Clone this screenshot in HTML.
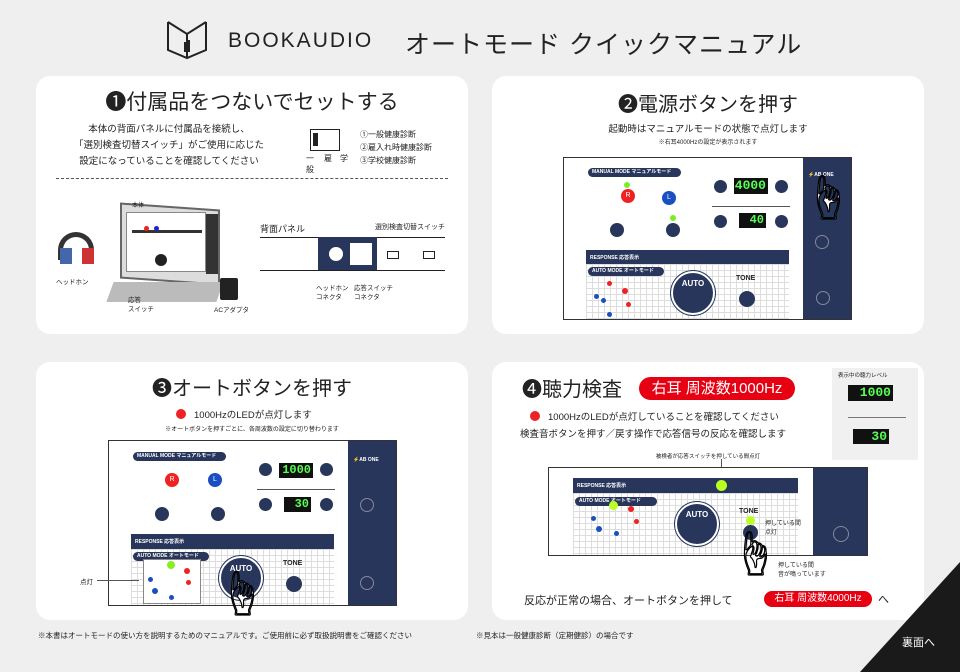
<!DOCTYPE html>
<html><head><meta charset="utf-8">
<style>
*{margin:0;padding:0;box-sizing:border-box}
body{width:960px;height:672px;background:#efefef;position:relative;overflow:hidden;font-family:"Liberation Sans","Noto Sans CJK JP",sans-serif;color:#222}
.a{position:absolute}
.card{position:absolute;background:#fff;border-radius:14px}
.t{position:absolute;white-space:nowrap}
.c{text-align:center}
.navy{background:#27365a}
.circ{position:absolute;border-radius:50%}
.disp{position:absolute;background:#111;color:#5f5;font-family:"Liberation Mono",monospace;font-weight:bold;text-align:right;padding-right:2px}
.grid{position:absolute;background-color:#fff;background-image:linear-gradient(#ddd 1px,transparent 1px),linear-gradient(90deg,#ddd 1px,transparent 1px);background-size:6px 6px}
.pill{position:absolute;background:#27365a;border-radius:5px;color:#fff;font-size:5px;padding-left:4px;line-height:9px;font-weight:bold}
.red{background:#e60012;color:#fff;border-radius:12px;text-align:center}
.hand{position:absolute;font-size:46px;line-height:46px;color:#fff;-webkit-text-stroke:1.2px #000}
</style></head><body>

<!-- header -->
<svg class="a" style="left:165px;top:20px" width="44" height="40" viewBox="0 0 44 40"><path d="M3 2 L3 30 L22 38 L41 30 L41 2 M3 2 L22 14 L41 2 M22 14 L22 38" fill="none" stroke="#222" stroke-width="2"/><rect x="19" y="22" width="2" height="10" fill="#222"/><rect x="23" y="20" width="2" height="12" fill="#222"/></svg>
<div class="t" style="left:228px;top:29px;font-size:21px;letter-spacing:2px;color:#222">BOOKAUDIO</div>
<div class="t" style="left:405px;top:25px;font-size:25px;color:#222;letter-spacing:1px">オートモード クイックマニュアル</div>

<!-- card 1 -->
<div class="card" style="left:36px;top:76px;width:432px;height:258px"></div>
<div class="t c" style="left:36px;top:86px;width:432px;font-size:21px">❶付属品をつないでセットする</div>
<div class="t c" style="left:64px;top:122px;width:210px;font-size:9.5px;line-height:16px">本体の背面パネルに付属品を接続し、<br>「選別検査切替スイッチ」がご使用に応じた<br>設定になっていることを確認してください</div>
<div class="a" style="left:310px;top:129px;width:30px;height:22px;border:1.5px solid #222"></div>
<div class="a" style="left:313px;top:133px;width:5px;height:13px;background:#222"></div>
<div class="t" style="left:306px;top:153px;font-size:8px">一<br>般</div><div class="t" style="left:324px;top:153px;font-size:8px">雇</div><div class="t" style="left:340px;top:153px;font-size:8px">学</div>
<div class="t" style="left:360px;top:128px;font-size:8px;line-height:13px">①一般健康診断<br>②雇入れ時健康診断<br>③学校健康診断</div>
<div class="a" style="left:56px;top:178px;width:392px;border-top:1px dashed #555"></div>
<!-- device illustration -->
<div class="a" style="left:120px;top:206px;width:100px;height:76px;background:#ddd;border:2px solid #666;transform:skewY(4deg)"></div>
<div class="a" style="left:126px;top:212px;width:80px;height:60px;background:#fff;border:1px solid #888"></div>
<div class="a" style="left:132px;top:230px;width:70px;height:3px;background:#333"></div>
<div class="circ" style="left:144px;top:226px;width:5px;height:5px;background:#e22"></div>
<div class="circ" style="left:154px;top:226px;width:5px;height:5px;background:#22c"></div>
<div class="circ" style="left:155px;top:254px;width:12px;height:12px;background:#222"></div>
<div class="a" style="left:206px;top:214px;width:12px;height:60px;background:#333"></div>
<div class="a" style="left:110px;top:282px;width:110px;height:20px;background:#bbb;transform:skewX(-20deg)"></div>
<div class="a" style="left:58px;top:232px;width:36px;height:28px;border:5px solid #333;border-bottom:none;border-radius:18px 18px 0 0"></div>
<div class="a" style="left:60px;top:248px;width:12px;height:16px;background:#46a"></div>
<div class="a" style="left:82px;top:248px;width:12px;height:16px;background:#c33"></div>
<div class="a" style="left:220px;top:278px;width:18px;height:22px;background:#222;border-radius:2px"></div>
<div class="t" style="left:132px;top:200px;font-size:6px">本体</div>
<div class="t" style="left:56px;top:276px;font-size:6.5px">ヘッドホン</div>
<div class="t" style="left:128px;top:296px;font-size:6.5px;line-height:9px">応答<br>スイッチ</div>
<div class="t" style="left:214px;top:304px;font-size:6.5px">ACアダプタ</div>
<!-- back panel -->
<div class="t" style="left:260px;top:222px;font-size:9px">背面パネル</div>
<div class="t" style="left:375px;top:222px;font-size:7px">選別検査切替スイッチ</div>
<div class="a" style="left:260px;top:237px;width:185px;border-top:1.5px solid #222"></div>
<div class="a" style="left:260px;top:270px;width:185px;border-top:1.5px solid #222"></div>
<div class="a navy" style="left:318px;top:237px;width:59px;height:33px"></div>
<div class="circ" style="left:329px;top:247px;width:14px;height:14px;background:#fff"></div>
<div class="a" style="left:350px;top:243px;width:22px;height:22px;background:#fff"></div>
<div class="t" style="left:316px;top:284px;font-size:6.5px;line-height:9px">ヘッドホン<br>コネクタ</div>
<div class="t" style="left:354px;top:284px;font-size:6.5px;line-height:9px">応答スイッチ<br>コネクタ</div>
<div class="a" style="left:387px;top:251px;width:12px;height:8px;border:1px solid #222"></div>
<div class="a" style="left:423px;top:251px;width:12px;height:8px;border:1px solid #222"></div>

<!-- card 2 -->
<div class="card" style="left:492px;top:76px;width:432px;height:258px"></div>
<div class="t c" style="left:492px;top:88px;width:432px;font-size:20px">❷電源ボタンを押す</div>
<div class="t c" style="left:492px;top:121px;width:432px;font-size:9.5px">起動時はマニュアルモードの状態で点灯します</div>
<div class="t c" style="left:492px;top:137px;width:432px;font-size:6px">※右耳4000Hzの設定が表示されます</div>

<div class="a" style="left:563px;top:157px;width:289px;height:163px;border:1.5px solid #333;background:#fff;overflow:hidden">
 <div class="pill" style="left:24px;top:10px;width:93px">MANUAL MODE マニュアルモード</div>
 <div class="circ" style="left:57px;top:31px;width:14px;height:14px;background:#e22;color:#fff;font-size:7px;text-align:center;line-height:14px">R</div>
 <div class="circ" style="left:98px;top:33px;width:14px;height:14px;background:#1a4fc0;color:#fff;font-size:7px;text-align:center;line-height:14px">L</div>
 <div class="circ" style="left:60px;top:24px;width:6px;height:6px;background:#7e2"></div>
 <div class="circ" style="left:46px;top:65px;width:14px;height:14px;background:#27365a"></div>
 <div class="circ" style="left:102px;top:65px;width:14px;height:14px;background:#27365a"></div>
 <div class="circ" style="left:106px;top:57px;width:6px;height:6px;background:#7e2"></div>
 <div class="circ" style="left:150px;top:22px;width:13px;height:13px;background:#27365a"></div>
 <div class="circ" style="left:211px;top:22px;width:13px;height:13px;background:#27365a"></div>
 <div class="disp" style="left:170px;top:20px;width:34px;height:16px;font-size:13px;line-height:16px">4000</div>
 <div class="a" style="left:148px;top:48px;width:78px;border-top:1px solid #555"></div>
 <div class="circ" style="left:150px;top:57px;width:13px;height:13px;background:#27365a"></div>
 <div class="circ" style="left:211px;top:57px;width:13px;height:13px;background:#27365a"></div>
 <div class="disp" style="left:175px;top:55px;width:27px;height:15px;font-size:12px;line-height:15px">40</div>
 <div class="a navy" style="left:22px;top:92px;width:203px;height:14px;color:#fff;font-size:5px;padding:4px 4px;font-weight:bold">RESPONSE 応答表示</div>
 <div class="grid" style="left:22px;top:106px;width:203px;height:60px"></div>
 <div class="pill" style="left:24px;top:109px;width:76px">AUTO MODE オートモード</div>
 <div class="circ" style="left:107px;top:113px;width:44px;height:44px;background:#27365a;border:2px solid #fff;box-shadow:0 0 0 1px #27365a;color:#fff;font-size:8px;text-align:center;line-height:22px;font-weight:bold">AUTO</div>
 <div class="t" style="left:172px;top:117px;font-size:7px;font-weight:bold">TONE</div>
 <div class="circ" style="left:175px;top:133px;width:16px;height:16px;background:#27365a"></div>
 <div class="circ" style="left:43px;top:123px;width:5px;height:5px;background:#e22"></div>
 <div class="circ" style="left:58px;top:130px;width:6px;height:6px;background:#e22"></div>
 <div class="circ" style="left:62px;top:144px;width:5px;height:5px;background:#e22"></div>
 <div class="circ" style="left:37px;top:140px;width:5px;height:5px;background:#1a4fc0"></div>
 <div class="circ" style="left:30px;top:136px;width:5px;height:5px;background:#1a4fc0"></div>
 <div class="circ" style="left:43px;top:154px;width:5px;height:5px;background:#1a4fc0"></div>
 <div class="a navy" style="left:239px;top:0;width:50px;height:163px"></div>
 <div class="t" style="left:244px;top:14px;font-size:5px;color:#fff;font-weight:bold">⚡AB ONE</div>
 <div class="circ" style="left:251px;top:77px;width:14px;height:14px;border:1px solid #889"></div>
 <div class="circ" style="left:252px;top:133px;width:14px;height:14px;border:1px solid #889"></div>
 <div class="hand" style="left:240px;top:18px">☝</div>
</div>

<!-- card 3 -->
<div class="card" style="left:36px;top:362px;width:432px;height:258px"></div>
<div class="t c" style="left:36px;top:372px;width:432px;font-size:20px">❸オートボタンを押す</div>
<div class="circ" style="left:176px;top:409px;width:10px;height:10px;background:#e22"></div>
<div class="t" style="left:194px;top:407px;font-size:9.5px">1000HzのLEDが点灯します</div>
<div class="t c" style="left:36px;top:424px;width:432px;font-size:6px">※オートボタンを押すごとに、各周波数の設定に切り替わります</div>
<div class="a" style="left:108px;top:440px;width:289px;height:166px;border:1.5px solid #333;background:#fff;overflow:hidden">
 <div class="pill" style="left:24px;top:11px;width:93px">MANUAL MODE マニュアルモード</div>
 <div class="circ" style="left:56px;top:32px;width:14px;height:14px;background:#e22;color:#fff;font-size:7px;text-align:center;line-height:14px">R</div>
 <div class="circ" style="left:99px;top:32px;width:14px;height:14px;background:#1a4fc0;color:#fff;font-size:7px;text-align:center;line-height:14px">L</div>
 <div class="circ" style="left:46px;top:66px;width:14px;height:14px;background:#27365a"></div>
 <div class="circ" style="left:102px;top:66px;width:14px;height:14px;background:#27365a"></div>
 <div class="circ" style="left:150px;top:22px;width:13px;height:13px;background:#27365a"></div>
 <div class="circ" style="left:211px;top:22px;width:13px;height:13px;background:#27365a"></div>
 <div class="disp" style="left:170px;top:22px;width:34px;height:15px;font-size:12px;line-height:15px">1000</div>
 <div class="a" style="left:148px;top:48px;width:78px;border-top:1px solid #555"></div>
 <div class="circ" style="left:150px;top:57px;width:13px;height:13px;background:#27365a"></div>
 <div class="circ" style="left:211px;top:57px;width:13px;height:13px;background:#27365a"></div>
 <div class="disp" style="left:175px;top:56px;width:27px;height:15px;font-size:12px;line-height:15px">30</div>
 <div class="a navy" style="left:22px;top:93px;width:203px;height:15px;color:#fff;font-size:5px;padding:4px 4px;font-weight:bold">RESPONSE 応答表示</div>
 <div class="grid" style="left:22px;top:108px;width:203px;height:60px"></div>
 <div class="pill" style="left:24px;top:111px;width:76px">AUTO MODE オートモード</div>
 <div class="a" style="left:34px;top:118px;width:58px;height:45px;border:1px solid #888;background:#fff"></div>
 <div class="circ" style="left:58px;top:120px;width:8px;height:8px;background:#8e2"></div>
 <div class="circ" style="left:75px;top:127px;width:6px;height:6px;background:#e22"></div>
 <div class="circ" style="left:77px;top:139px;width:5px;height:5px;background:#e22"></div>
 <div class="circ" style="left:39px;top:136px;width:5px;height:5px;background:#1a4fc0"></div>
 <div class="circ" style="left:43px;top:147px;width:6px;height:6px;background:#1a4fc0"></div>
 <div class="circ" style="left:60px;top:154px;width:5px;height:5px;background:#1a4fc0"></div>
 <div class="circ" style="left:110px;top:115px;width:44px;height:44px;background:#27365a;border:2px solid #fff;box-shadow:0 0 0 1px #27365a;color:#fff;font-size:8px;text-align:center;line-height:22px;font-weight:bold">AUTO</div>
 <div class="t" style="left:174px;top:119px;font-size:7px;font-weight:bold">TONE</div>
 <div class="circ" style="left:177px;top:135px;width:16px;height:16px;background:#27365a"></div>
 <div class="a navy" style="left:239px;top:0;width:50px;height:166px"></div>
 <div class="t" style="left:244px;top:16px;font-size:5px;color:#fff;font-weight:bold">⚡AB ONE</div>
 <div class="circ" style="left:251px;top:57px;width:14px;height:14px;border:1px solid #889"></div>
 <div class="circ" style="left:251px;top:135px;width:14px;height:14px;border:1px solid #889"></div>
</div>
<div class="hand" style="left:218px;top:572px">☝</div>
<div class="t" style="left:80px;top:576px;font-size:6.5px">点灯</div>
<div class="a" style="left:97px;top:580px;width:42px;border-top:1px solid #555"></div>

<!-- card 4 -->
<div class="card" style="left:492px;top:362px;width:432px;height:258px"></div>
<div class="t" style="left:522px;top:373px;font-size:20px">❹聴力検査</div>
<div class="t red" style="left:639px;top:377px;width:156px;height:23px;font-size:15px;line-height:23px">右耳 周波数1000Hz</div>
<div class="circ" style="left:530px;top:411px;width:10px;height:10px;background:#e22"></div>
<div class="t" style="left:548px;top:409px;font-size:9.5px">1000HzのLEDが点灯していることを確認してください</div>
<div class="t" style="left:520px;top:426px;font-size:9.5px">検査音ボタンを押す／戻す操作で応答信号の反応を確認します</div>
<div class="a" style="left:832px;top:368px;width:86px;height:92px;background:#f0f0f0"></div>
<div class="t" style="left:838px;top:371px;font-size:5.5px">表示中の聴力レベル</div>
<div class="disp" style="left:848px;top:385px;width:45px;height:16px;font-size:13px;line-height:16px">1000</div>
<div class="a" style="left:848px;top:417px;width:58px;border-top:1px solid #777"></div>
<div class="disp" style="left:853px;top:429px;width:36px;height:15px;font-size:13px;line-height:15px">30</div>
<div class="t c" style="left:492px;top:452px;width:432px;font-size:5.5px">被検者が応答スイッチを押している間点灯</div>
<div class="a" style="left:721px;top:459px;height:20px;border-left:1px solid #555"></div>
<div class="a" style="left:548px;top:467px;width:320px;height:89px;border:1.5px solid #333;background:#fff;overflow:hidden">
 <div class="a navy" style="left:24px;top:10px;width:225px;height:15px;color:#fff;font-size:5px;padding:4px 4px;font-weight:bold">RESPONSE 応答表示</div>
 <div class="circ" style="left:167px;top:12px;width:11px;height:11px;background:#bf2"></div>
 <div class="grid" style="left:24px;top:25px;width:225px;height:65px"></div>
 <div class="pill" style="left:26px;top:29px;width:82px">AUTO MODE オートモード</div>
 <div class="circ" style="left:126px;top:34px;width:44px;height:44px;background:#27365a;border:2px solid #fff;box-shadow:0 0 0 1px #27365a;color:#fff;font-size:8px;text-align:center;line-height:22px;font-weight:bold">AUTO</div>
 <div class="t" style="left:190px;top:40px;font-size:7px;font-weight:bold">TONE</div>
 <div class="circ" style="left:197px;top:48px;width:9px;height:9px;background:#bf2"></div>
 <div class="circ" style="left:194px;top:57px;width:15px;height:15px;background:#27365a"></div>
 <div class="t" style="left:216px;top:52px;font-size:6px;line-height:9px">押している間<br>点灯</div>
 <div class="circ" style="left:60px;top:33px;width:9px;height:9px;background:#bf2"></div>
 <div class="circ" style="left:79px;top:38px;width:6px;height:6px;background:#e22"></div>
 <div class="circ" style="left:85px;top:51px;width:5px;height:5px;background:#e22"></div>
 <div class="circ" style="left:42px;top:48px;width:5px;height:5px;background:#1a4fc0"></div>
 <div class="circ" style="left:47px;top:58px;width:6px;height:6px;background:#1a4fc0"></div>
 <div class="circ" style="left:65px;top:63px;width:5px;height:5px;background:#1a4fc0"></div>
 <div class="a navy" style="left:264px;top:0;width:56px;height:89px"></div>
 <div class="circ" style="left:284px;top:58px;width:16px;height:16px;border:1px solid #889"></div>
</div>
<div class="hand" style="left:731px;top:532px">☝</div>
<div class="t" style="left:778px;top:562px;font-size:6px;line-height:9px">押している間<br>音が鳴っています</div>
<div class="t" style="left:524px;top:592px;font-size:11px">反応が正常の場合、オートボタンを押して</div>
<div class="t red" style="left:764px;top:591px;width:108px;height:16px;font-size:10px;line-height:16px">右耳 周波数4000Hz</div>
<div class="t" style="left:878px;top:591px;font-size:11px">へ</div>

<!-- footer -->
<div class="t" style="left:38px;top:630px;font-size:7.5px">※本書はオートモードの使い方を説明するためのマニュアルです。ご使用前に必ず取扱説明書をご確認ください</div>
<div class="t" style="left:476px;top:630px;font-size:7.5px">※見本は一般健康診断（定期健診）の場合です</div>
<svg class="a" style="left:860px;top:562px" width="100" height="110"><polygon points="100,0 100,110 0,110" fill="#1a1a1a"/></svg>
<div class="t" style="left:902px;top:634px;font-size:11px;color:#fff">裏面へ</div>
</body></html>
